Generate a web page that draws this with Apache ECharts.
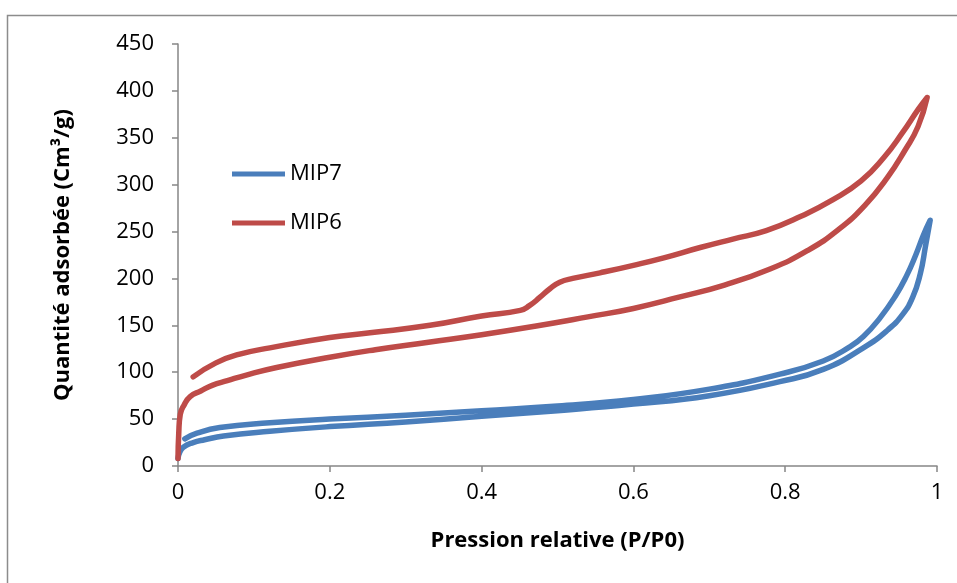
<!DOCTYPE html>
<html>
<head>
<meta charset="utf-8">
<script src="https://cdn.jsdelivr.net/npm/echarts@6/dist/echarts.min.js"></script>
<style>
html,body{margin:0;padding:0;background:#fff;}
#chart{width:957px;height:583px;}
</style>
</head>
<body>
<div id="chart"></div>
<script>
// Tick labels
var xTicks = [0, 0.2, 0.4, 0.6, 0.8, 1];
var yTicks = [0, 50, 100, 150, 200, 250, 300, 350, 400, 450];
var seriesNames = ['MIP7', 'MIP6'];

// MIP6 adsorption branch (increasing P/P0)
var mip6AdsX = [0.000, 0.001, 0.003, 0.008, 0.016, 0.030, 0.045, 0.065, 0.090, 0.130, 0.200, 0.260, 0.330, 0.400, 0.470, 0.540, 0.600, 0.660, 0.720, 0.780, 0.830, 0.870, 0.905, 0.935, 0.958, 0.975, 0.987];
var mip6AdsY = [8, 35, 55, 65, 74, 80, 86, 91, 97, 105, 116, 124, 132, 140, 149, 159, 168, 180, 193, 210, 230, 252, 278, 308, 337, 362, 393];
// MIP6 desorption branch (decreasing P/P0)
var mip6DesX = [0.975, 0.955, 0.930, 0.900, 0.863, 0.820, 0.775, 0.731, 0.688, 0.640, 0.600, 0.556, 0.520, 0.503, 0.490, 0.477, 0.463, 0.451, 0.400, 0.332, 0.253, 0.200, 0.121, 0.080, 0.050, 0.020];
var mip6DesY = [380, 356, 329, 304, 284, 266, 251, 242, 233, 222, 214, 206, 200, 196, 189, 180, 171, 166, 160, 150, 142, 137, 126, 119, 110, 95];

// MIP7 adsorption branch
var mip7AdsX = [0.000, 0.002, 0.007, 0.020, 0.035, 0.060, 0.121, 0.200, 0.300, 0.400, 0.500, 0.600, 0.700, 0.793, 0.850, 0.903, 0.935, 0.955, 0.968, 0.978, 0.985, 0.991];
var mip7AdsY = [8, 14, 20, 25, 28, 32, 37, 42, 47, 53, 59, 66, 75, 90, 103, 126, 145, 162, 180, 205, 235, 262];
// MIP7 desorption branch
var mip7DesX = [0.982, 0.972, 0.960, 0.945, 0.925, 0.903, 0.885, 0.850, 0.793, 0.700, 0.600, 0.500, 0.400, 0.300, 0.200, 0.121, 0.055, 0.025, 0.009];
var mip7DesY = [246, 225, 203, 181, 158, 138, 127, 112, 98, 82, 71, 64, 59, 54, 50, 46, 41, 35, 29];

function loop(ax, ay, dx, dy) {
  var d = [];
  for (var i = 0; i < ax.length; i++) d.push([ax[i], ay[i]]);
  for (var j = 0; j < dx.length; j++) d.push([dx[j], dy[j]]);
  return d;
}

var FONT = '"Open Sans", "Noto Sans", sans-serif';
var chart = echarts.init(document.getElementById('chart'), null, {renderer: 'canvas'});
chart.setOption({
  animation: false,
  backgroundColor: '#ffffff',
  graphic: [{
    type: 'rect', left: 5, top: 13, shape: {width: 1100, height: 700},
    style: {fill: 'none', stroke: '#8c8c8c', lineWidth: 1.5}, silent: true
  }],
  grid: {left: 178, right: 20, top: 44, bottom: 117, containLabel: false},
  legend: {
    orient: 'vertical', left: 227, top: 158,
    icon: 'rect', itemWidth: 53, itemHeight: 5, itemGap: 27,
    textStyle: {fontFamily: FONT, fontSize: 22, color: '#000'},
    data: seriesNames
  },
  xAxis: {
    type: 'value', min: 0, max: 1, interval: 0.2,
    name: 'Pression relative (P/P0)', nameLocation: 'middle', nameGap: 64,
    nameTextStyle: {fontFamily: FONT, fontSize: 22, fontWeight: 'bold', color: '#000'},
    axisLine: {show: true, onZero: false, lineStyle: {color: '#868686', width: 1.5}},
    axisTick: {show: true, inside: false, length: 6, lineStyle: {color: '#868686', width: 1.5}},
    axisLabel: {fontFamily: FONT, fontSize: 22, color: '#000', margin: 16,
      formatter: function (v) { var r = Math.round(v * 10) / 10; return xTicks.indexOf(r) >= 0 ? String(r) : ''; }},
    splitLine: {show: false}
  },
  yAxis: {
    type: 'value', min: 0, max: 450, interval: 50,
    name: 'Quantité adsorbée (Cm³/g)', nameLocation: 'middle', nameGap: 104, nameRotate: 90,
    nameTextStyle: {fontFamily: FONT, fontSize: 22, fontWeight: 'bold', color: '#000'},
    axisLine: {show: true, lineStyle: {color: '#868686', width: 1.5}},
    axisTick: {show: true, inside: false, length: 6, lineStyle: {color: '#868686', width: 1.5}},
    axisLabel: {fontFamily: FONT, fontSize: 22, color: '#000', margin: 24,
      formatter: function (v) { return yTicks.indexOf(v) >= 0 ? String(v) : ''; }},
    splitLine: {show: false}
  },
  series: [
    {
      name: seriesNames[0], type: 'line', showSymbol: false, symbol: 'none', smooth: 0.5,
      color: '#4A7EBB',
      lineStyle: {color: '#4A7EBB', width: 5.5, cap: 'round', join: 'round'},
      data: loop(mip7AdsX, mip7AdsY, mip7DesX, mip7DesY)
    },
    {
      name: seriesNames[1], type: 'line', showSymbol: false, symbol: 'none', smooth: 0.5,
      color: '#BE4B48',
      lineStyle: {color: '#BE4B48', width: 5.5, cap: 'round', join: 'round'},
      data: loop(mip6AdsX, mip6AdsY, mip6DesX, mip6DesY)
    }
  ]
});
</script>
</body>
</html>
